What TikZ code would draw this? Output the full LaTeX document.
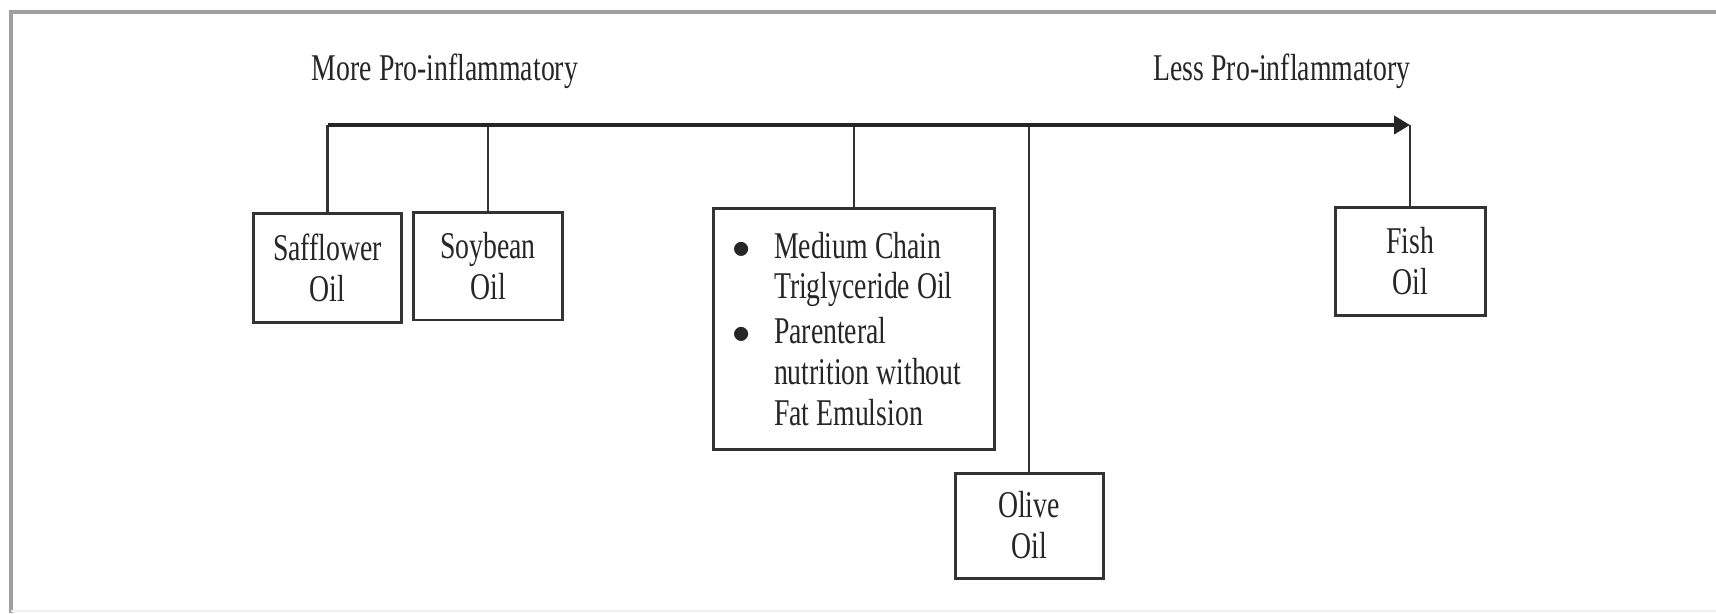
\documentclass[tikz,border=0pt]{standalone}
\usepackage{fontspec}
\setmainfont[FakeStretch=0.735]{Liberation Serif}
\usetikzlibrary{arrows.meta,positioning}

\begin{document}
\begin{tikzpicture}[x=0.02cm,y=-0.02cm,
    oilbox/.style={draw=black!80,line width=0.06cm,align=center,inner sep=0pt,
      text=black!85,font=\fontsize{21.5}{23.3}\selectfont},
    stem/.style={draw=black!80,line width=0.055cm},
    axisline/.style={draw=black!85,line width=0.09cm,-{Triangle[length=0.32cm,width=0.36cm]}},
    scalelabel/.style={anchor=base,text=black!85,font=\fontsize{21.5}{23.3}\selectfont}]
  \useasboundingbox (0,0) rectangle (1716,613);
  % frame round the figure
  \draw[gray!75,line width=0.08cm] (11,613) -- (11,12) -- (1716,12);
  \draw[gray!12,line width=0.04cm] (11,611) -- (1716,611);
  % ends of the scale
  \node[scalelabel] (more) at (445,80) {More Pro-inflammatory};
  \node[scalelabel] (less) at (1282,80) {Less Pro-inflammatory};
  \coordinate (axisy) at (0,125);
  % oils
  \node[oilbox,minimum width=2.98cm,minimum height=2.2cm] (saff) at (327.5,268) {Safflower\\Oil};
  \node[oilbox,minimum width=3cm,minimum height=2.16cm] (soy) at (488,266) {Soybean\\Oil};
  \node[oilbox,align=flush left,text width=4.88cm,inner xsep=0.38cm,minimum height=4.84cm] (mct) at (854,329)
    {\makebox[0.84cm][l]{$\bullet$}Medium Chain\\
     \hspace*{0.84cm}Triglyceride Oil\\[0.08cm]
     \makebox[0.84cm][l]{$\bullet$}Parenteral\\
     \hspace*{0.84cm}nutrition without\\
     \hspace*{0.84cm}Fat Emulsion};
  \node[oilbox,minimum width=2.96cm,minimum height=2.1cm] (olive) at (1029,525.5) {Olive\\Oil};
  \node[oilbox,minimum width=3cm,minimum height=2.18cm] (fish) at (1410,261.5) {Fish\\Oil};
  % stems up to the scale
  \foreach \b in {saff,soy,mct,olive,fish}
    \draw[stem] (\b.north) -- (\b.north |- axisy);
  \draw[axisline] (saff.north |- axisy) -- (fish.north |- axisy);
\end{tikzpicture}
\end{document}
